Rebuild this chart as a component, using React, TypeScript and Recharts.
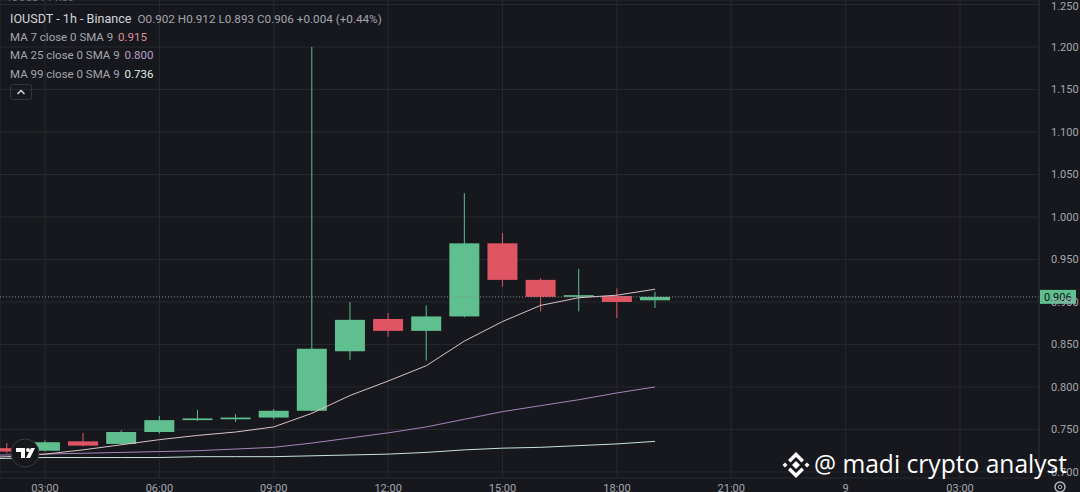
import React from "react";
import { ComposedChart, Bar, Line, XAxis, YAxis, CartesianGrid, ReferenceLine } from "recharts";

// hourly candles, 01:00 has MA values only (candle off-screen)
const hours = [1, 2, 3, 4, 5, 6, 7, 8, 9, 10, 11, 12, 13, 14, 15, 16, 17, 18, 19];
const opens = [null, 0.728, 0.725, 0.736, 0.733, 0.747, 0.761, 0.762, 0.764, 0.772, 0.842, 0.880, 0.866, 0.883, 0.969, 0.926, 0.906, 0.907, 0.902];
const highs = [null, 0.734, 0.737, 0.746, 0.749, 0.766, 0.773, 0.768, 0.774, 1.2, 0.9, 0.887, 0.896, 1.028, 0.981, 0.928, 0.939, 0.916, 0.912];
const lows = [null, 0.722, 0.724, 0.73, 0.732, 0.745, 0.76, 0.759, 0.762, 0.771, 0.832, 0.859, 0.831, 0.882, 0.918, 0.889, 0.889, 0.881, 0.893];
const closes = [null, 0.724, 0.735, 0.731, 0.747, 0.761, 0.763, 0.764, 0.772, 0.845, 0.879, 0.866, 0.883, 0.969, 0.926, 0.906, 0.908, 0.9, 0.906];
const ma7 = [0.716, 0.718, 0.721, 0.726, 0.732, 0.738, 0.743, 0.747, 0.753, 0.769, 0.79, 0.807, 0.825, 0.854, 0.877, 0.896, 0.905, 0.908, 0.915];
const ma25 = [0.719, 0.72, 0.721, 0.722, 0.723, 0.724, 0.725, 0.727, 0.729, 0.734, 0.74, 0.746, 0.753, 0.762, 0.771, 0.778, 0.785, 0.793, 0.8];
const ma99 = [0.716, 0.716, 0.717, 0.717, 0.717, 0.717, 0.718, 0.718, 0.718, 0.719, 0.72, 0.721, 0.723, 0.726, 0.728, 0.729, 0.731, 0.733, 0.736];

const timeTicks = [3, 6, 9, 12, 15, 18, 21, 24, 27];
const timeLabels = ["03:00", "06:00", "09:00", "12:00", "15:00", "18:00", "21:00", "9", "03:00"];
const priceTicks = [0.7, 0.75, 0.8, 0.85, 0.9, 0.95, 1.0, 1.05, 1.1, 1.15, 1.2, 1.25];
const lastPrice = 0.906;

const GREEN = "#5fbf8e";
const RED = "#e05563";
const BG = "#17181d";
const GRID = "#27292f";
const TEXT = "#a3a6ae";
const FONT = "Roboto, 'Noto Sans', sans-serif";

const data = hours.map((t, i) => ({
  t,
  o: opens[i],
  h: highs[i],
  l: lows[i],
  c: closes[i],
  ma7: ma7[i],
  ma25: ma25[i],
  ma99: ma99[i],
}));

const Candle = (props: any) => {
  const { x, y, width, height, payload } = props;
  if (payload.h == null) return null;
  const top = Math.min(y, y + height);
  const len = Math.abs(height);
  const ppu = len / (payload.h - payload.l);
  const hi = Math.max(payload.o, payload.c);
  const lo = Math.min(payload.o, payload.c);
  const by = top + (payload.h - hi) * ppu;
  const bh = Math.max(1.5, (hi - lo) * ppu);
  const color = payload.c >= payload.o ? GREEN : RED;
  const cx = x + width / 2;
  return (
    <g>
      <line x1={cx} x2={cx} y1={top} y2={top + len} stroke={color} strokeWidth={1} />
      <rect x={x} y={by} width={width} height={bh} fill={color} />
    </g>
  );
};

const PriceTag = (props: any) => {
  const { viewBox } = props;
  const x = viewBox.x + viewBox.width + 1;
  const y = viewBox.y;
  return (
    <g>
      <rect x={x} y={y - 7} width={36} height={14} fill={GREEN} />
      <text x={x + 4} y={y + 4} fontSize={11} fill="#10131a" fontFamily={FONT}>
        {lastPrice.toFixed(3)}
      </text>
    </g>
  );
};

const legendRow = (label: string, value: string, color: string, top: number) => (
  <div style={{ position: "absolute", left: 10, top, fontSize: 11.5, color: TEXT, whiteSpace: "nowrap" }}>
    {label} <span style={{ color, marginLeft: 2 }}>{value}</span>
  </div>
);

export default function App() {
  return (
    <div style={{ position: "absolute", left: 0, top: 0, width: 1080, height: 492, background: BG, overflow: "hidden", fontFamily: FONT }}>
      <ComposedChart width={1080} height={492} data={data} margin={{ top: 0, right: 0, bottom: 0, left: 0 }}>
        <CartesianGrid stroke={GRID} />
        <XAxis
          dataKey="t"
          type="number"
          domain={[1.82, 29.07]}
          allowDataOverflow
          ticks={timeTicks}
          tickFormatter={(v) => timeLabels[timeTicks.indexOf(v)]}
          height={14}
          axisLine={false}
          tickLine={false}
          tick={{ fill: TEXT, fontSize: 11, fontFamily: FONT }}
          tickMargin={0}
        />
        <YAxis
          orientation="right"
          type="number"
          domain={[0.6929, 1.2553]}
          allowDataOverflow
          ticks={priceTicks}
          tickFormatter={(v) => v.toFixed(3)}
          width={41}
          axisLine={{ stroke: "#2b2d34" }}
          tickLine={false}
          tickMargin={6}
          tick={{ fill: TEXT, fontSize: 11, fontFamily: FONT }}
        />
        <ReferenceLine y={lastPrice} stroke="#8a8d95" strokeDasharray="1 2" label={<PriceTag />} />
        <Line type="linear" dataKey="ma99" stroke="#c6e6da" strokeWidth={1} dot={false} isAnimationActive={false} />
        <Line type="linear" dataKey="ma25" stroke="#a984bb" strokeWidth={1} dot={false} isAnimationActive={false} />
        <Line type="linear" dataKey="ma7" stroke="#d9c3c7" strokeWidth={1} dot={false} isAnimationActive={false} />
        <Bar dataKey={(d: any) => (d.h == null ? null : [d.l, d.h])} barSize={30} shape={<Candle />} isAnimationActive={false} />
      </ComposedChart>

      <div style={{ position: "absolute", left: 8, top: -9, fontSize: 11, color: "#6f727a" }}>IOUSDT Price</div>
      <div style={{ position: "absolute", left: 10, top: 8, whiteSpace: "nowrap", color: "#d1d4dc" }}>
        <span style={{ fontSize: 12.6 }}>IOUSDT - 1h - Binance</span>
        <span style={{ fontSize: 11.7, color: TEXT, marginLeft: 6 }}>
          O0.902 H0.912 L0.893 C0.906 +0.004 (+0.44%)
        </span>
      </div>
      {legendRow("MA 7 close 0 SMA 9", "0.915", "#dd8f9a", 30)}
      {legendRow("MA 25 close 0 SMA 9", "0.800", "#b99fc9", 48)}
      {legendRow("MA 99 close 0 SMA 9", "0.736", "#dcefe7", 67)}
      <svg style={{ position: "absolute", left: 0, top: 0 }} width={1080} height={492}>
        <rect x={10.5} y={84.5} width={21} height={15} rx={2} fill="none" stroke="#34363d" />
        <path d="M17.5 94 L21 90.5 L24.5 94" fill="none" stroke="#d1d4dc" strokeWidth={1.5} />
        <circle cx={25} cy={453} r={14} fill="#16171b" stroke="#3a3c43" strokeWidth={1} />
        <path d="M16 448 h9 v10 h-4 v-6 h-5 z" fill="#ffffff" />
        <circle cx={28} cy={450} r={2} fill="#ffffff" />
        <path d="M31 448 h4 l-5 10 h-4 z" fill="#ffffff" />
        <g fill="#ffffff">
          <polygon points="796,461 800,465 796,469 792,465" />
          <polygon points="785,462.5 787.5,465 785,467.5 782.5,465" />
          <polygon points="807,462.5 809.5,465 807,467.5 804.5,465" />
          <polygon points="796,452 804,460 801.5,462.5 796,457 790.5,462.5 788,460" />
          <polygon points="796,478 804,470 801.5,467.5 796,473 790.5,467.5 788,470" />
        </g>
        <circle cx={1060} cy={487} r={5} fill="none" stroke="#b2b5be" strokeWidth={1.5} />
        <circle cx={1060} cy={487} r={1.8} fill="none" stroke="#b2b5be" strokeWidth={1} />
      </svg>
      <div style={{ position: "absolute", left: 814, top: 449, fontSize: 24.6, color: "#ffffff", fontFamily: "'Open Sans', sans-serif", whiteSpace: "nowrap", lineHeight: "30px" }}>
        @ madi crypto analyst
      </div>
    </div>
  );
}
